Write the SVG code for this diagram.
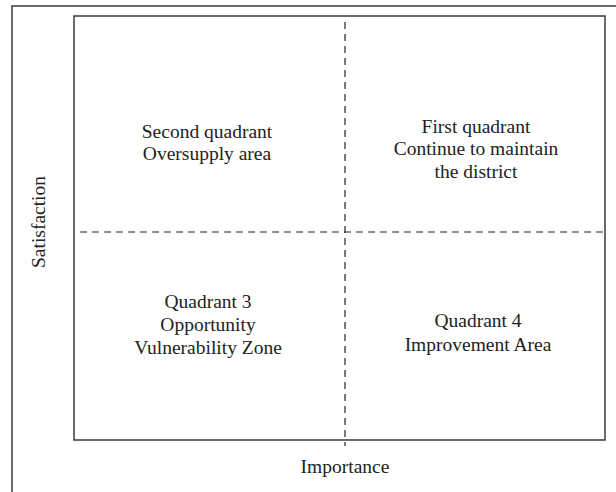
<svg xmlns="http://www.w3.org/2000/svg" width="616" height="492" viewBox="0 0 616 492">
<style>
.frame{fill:none;stroke:#3a3a3a;stroke-width:1.5}
.dash{fill:none;stroke:#222;stroke-width:1.2;stroke-dasharray:7,5}
.t{font-family:"Liberation Serif","Times New Roman",serif;font-size:19.5px;fill:#222;text-anchor:middle}
</style>
<rect width="616" height="492" fill="#fff"/>
<path class="frame" d="M12,492 V6 H616"/>
<rect class="frame" x="74" y="16" width="531" height="424"/>
<g id="connectors">
<line class="dash" x1="345" y1="22" x2="345" y2="446"/>
<line class="dash" x1="80" y1="232" x2="603" y2="232"/>
</g>
<g id="q2"><text class="t" x="207" y="138">Second quadrant</text><text class="t" x="207" y="160">Oversupply area</text></g>
<g id="q1"><text class="t" x="476" y="133">First quadrant</text><text class="t" x="476" y="155">Continue to maintain</text><text class="t" x="476" y="178">the district</text></g>
<g id="q3"><text class="t" x="208" y="308">Quadrant 3</text><text class="t" x="208" y="331">Opportunity</text><text class="t" x="208" y="354">Vulnerability Zone</text></g>
<g id="q4"><text class="t" x="478" y="327">Quadrant 4</text><text class="t" x="478" y="351">Improvement Area</text></g>
<g id="xlabel"><text class="t" x="345" y="473">Importance</text></g>
<g id="ylabel"><text class="t" transform="translate(45,222) rotate(-90)">Satisfaction</text></g>
</svg>
